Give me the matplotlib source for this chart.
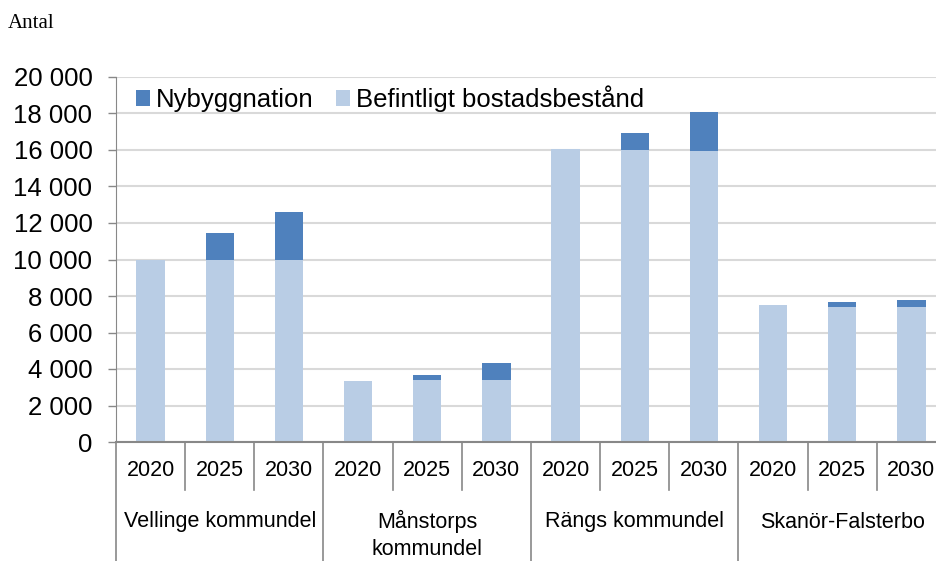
import matplotlib
matplotlib.use("Agg")
import matplotlib.pyplot as plt
from matplotlib.transforms import blended_transform_factory

groups = ["Vellinge kommundel", "Månstorps\nkommundel", "Rängs kommundel", "Skanör-Falsterbo"]
years = ["2020", "2025", "2030"]
befintligt = [10000, 10000, 10000, 3350, 3370, 3410, 16040, 16000, 15960, 7500, 7400, 7400]
nybyggnation = [0, 1450, 2600, 0, 320, 900, 0, 910, 2120, 0, 270, 380]
yticks = [0, 2000, 4000, 6000, 8000, 10000, 12000, 14000, 16000, 18000, 20000]
ytick_labels = ["0", "2 000", "4 000", "6 000", "8 000", "10 000", "12 000", "14 000",
                "16 000", "18 000", "20 000"]

plt.rcParams['font.family'] = ['Liberation Sans', 'DejaVu Sans']

W, H = 937, 561
fig = plt.figure(figsize=(W / 100, H / 100), dpi=100)
ax = fig.add_axes([116 / W, (H - 442) / H, (946 - 116) / W, (442 - 77) / H])

light = "#B9CDE5"
dark = "#4F81BD"
x = list(range(len(befintligt)))
ax.bar(x, befintligt, width=0.41, color=light, label="Befintligt bostadsbestånd", zorder=3)
ax.bar(x, nybyggnation, width=0.41, bottom=befintligt, color=dark, label="Nybyggnation", zorder=3)

ax.set_xlim(-0.5, len(x) - 0.5)
ax.set_ylim(0, 20000)
ax.set_yticks(yticks)
ax.set_yticklabels(ytick_labels, fontsize=18.5)
ax.yaxis.grid(True, color="#D9D9D9", linewidth=1.5, zorder=0)
ax.set_axisbelow(True)
ax.tick_params(axis="y", length=6, width=1, color="#888888", pad=11)
ax.set_xticks([])
for s in ["top", "right", "bottom"]:
    ax.spines[s].set_visible(False)
ax.spines["left"].set_color("#888888")
ax.axhline(0, color="#888888", linewidth=1.5, zorder=4, clip_on=False)

trans = blended_transform_factory(ax.transData, ax.transAxes)
lc = "#888888"
yr_bottom = -(490 - 442) / 365
grp_bottom = -(561 - 442) / 365 - 0.01
for i in range(len(x) + 1):
    xpos = i - 0.5
    bottom = grp_bottom if i % 3 == 0 else yr_bottom
    ax.plot([xpos, xpos], [0, bottom], transform=trans, color=lc, lw=1.2, clip_on=False)

for i in x:
    ax.text(i, -(471 - 442) / 365, years[i % 3], transform=trans, ha="center", va="center",
            fontsize=15.5)
for g, name in enumerate(groups):
    cx = g * 3 + 1
    ypx = 535 if "\n" in name else 522
    ax.text(cx, -(ypx - 442) / 365, name, transform=trans, ha="center", va="center",
            linespacing=1.35, fontsize=15.5)

handles, labels = ax.get_legend_handles_labels()
ax.legend(handles[::-1], labels[::-1], loc="upper left", ncol=2, frameon=False,
          fontsize=18.5, handlelength=0.55, handleheight=0.55, handletextpad=0.2,
          columnspacing=0.9, bbox_to_anchor=(0.012, 1.005), borderaxespad=0)

fig.text(8 / W, 1 - 23 / H, "Antal", fontsize=15, family="Liberation Serif", va="center")

fig.savefig("out.png", dpi=100)
